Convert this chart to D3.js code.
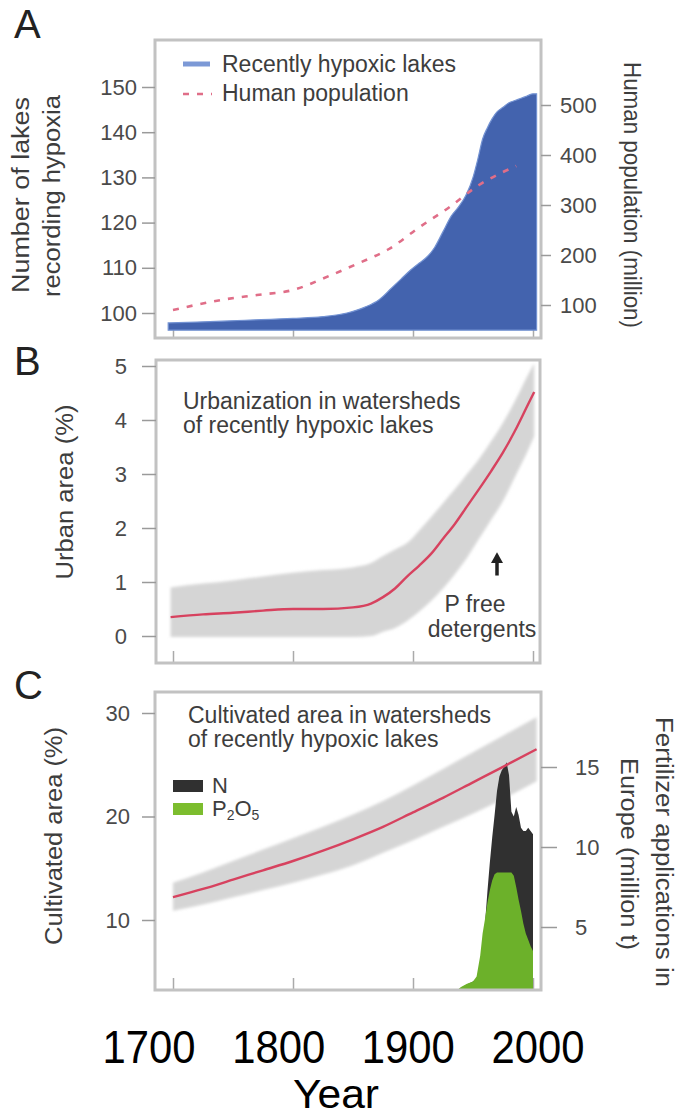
<!DOCTYPE html>
<html>
<head>
<meta charset="utf-8">
<script src="https://cdn.jsdelivr.net/npm/d3@7"></script>
<style>
  body { margin: 0; background: #fff; }
  svg { display: block; font-family: "Liberation Sans", Arial, sans-serif; }
</style>
</head>
<body>
<script>
const width = 679;
const height = 1118;

// ---- data ----
const yearTicks = [1700, 1800, 1900, 2000];

// A: cumulative number of lakes recording hypoxia
const lakeYears = [1696, 1720, 1760, 1800, 1825, 1845, 1860, 1872, 1882, 1890, 1898, 1905, 1912, 1918, 1925,
  1932, 1938, 1944, 1950, 1954, 1958, 1962, 1966, 1970, 1975, 1980, 1985, 1990, 1995, 2000, 2003];
const lakeCount = [97.8, 98.0, 98.4, 98.8, 99.2, 100.0, 101.3, 103.0, 105.5, 107.5, 109.5, 111.0, 112.5, 114.5, 118.0,
  121.5, 123.5, 126.0, 130.0, 134.0, 138.5, 141.0, 143.0, 144.5, 145.5, 146.5, 147.0, 147.5, 148.0, 148.5, 148.5];
const lakeTicks = [100, 110, 120, 130, 140, 150];

// A: human population (million)
const popYears = [1700, 1740, 1770, 1800, 1830, 1855, 1880, 1905, 1930, 1955, 1975, 1986];
const popValues = [90, 110, 120, 130, 158, 184, 212, 255, 295, 340, 366, 378];
const popTicks = [100, 200, 300, 400, 500];

// B: urban area (%)
const urbYears = [1698, 1725, 1750, 1775, 1800, 1825, 1850, 1865, 1875, 1885, 1895, 1905, 1915, 1925, 1935,
  1945, 1955, 1965, 1975, 1985, 1995, 2001];
const urbMean = [0.35, 0.4, 0.43, 0.47, 0.5, 0.5, 0.53, 0.6, 0.72, 0.88, 1.1, 1.3, 1.52, 1.8, 2.08,
  2.4, 2.72, 3.05, 3.4, 3.8, 4.25, 4.52];
const urbHigh = [0.9, 0.97, 1.03, 1.1, 1.17, 1.22, 1.27, 1.35, 1.48, 1.6, 1.72, 1.95, 2.2, 2.46, 2.72,
  3.0, 3.28, 3.6, 3.95, 4.35, 4.8, 5.05];
const urbLow = [-0.02, -0.02, -0.02, -0.02, -0.02, -0.02, -0.02, 0.0, 0.08, 0.15, 0.28, 0.45, 0.65, 0.88, 1.15,
  1.45, 1.8, 2.15, 2.5, 2.95, 3.4, 3.7];
const urbTicks = [0, 1, 2, 3, 4, 5];

// C: cultivated area (%)
const cultYears = [1700, 1725, 1750, 1775, 1800, 1825, 1850, 1875, 1900, 1925, 1950, 1975, 2003];
const cultMean = [12.2, 13.0, 13.9, 14.8, 15.7, 16.7, 17.8, 19.0, 20.4, 21.8, 23.3, 24.8, 26.5];
const cultHigh = [13.6, 14.6, 15.7, 16.8, 17.9, 19.0, 20.2, 21.5, 23.0, 24.6, 26.2, 27.8, 29.6];
const cultLow = [10.9, 11.5, 12.2, 12.9, 13.6, 14.4, 15.3, 16.5, 17.7, 19.0, 20.3, 21.7, 23.4];
const cultTicks = [10, 20, 30];

// C: fertilizer applications in Europe (million t)
const fertYears = [1936, 1940, 1945, 1950, 1953, 1956, 1958, 1960, 1962, 1964, 1966, 1968, 1970, 1972,
  1974, 1976, 1978, 1980, 1982, 1984, 1986, 1988, 1990, 1992, 1994, 1996, 1998, 2000];
const fertN = [1.0, 1.2, 1.4, 1.6, 1.8, 2.6, 3.9, 5.2, 7.2, 9.0, 10.6, 12.0, 13.5, 14.4,
  14.8, 15.0, 15.3, 14.5, 12.2, 11.9, 12.5, 12.0, 11.2, 11.0, 11.0, 11.2, 11.0, 10.8];
const fertP = [1.0, 1.25, 1.45, 1.6, 1.9, 3.2, 4.6, 5.5, 6.5, 7.3, 7.9, 8.3, 8.4, 8.4,
  8.4, 8.4, 8.4, 8.4, 8.4, 8.2, 7.5, 6.7, 6.0, 5.2, 4.6, 4.2, 3.8, 3.5];
const fertTicks = [5, 10, 15];

// ---- layout ----
const frameA = { x: 155, y: 40, w: 386, h: 298 };
const frameB = { x: 156, y: 360, w: 384, h: 303 };
const frameC = { x: 155, y: 692, w: 386, h: 298 };

const x = d3.scaleLinear().domain([1700, 2000]).range([173, 533]);
const yA = d3.scaleLinear().domain([100, 150]).range([313, 87]);
const yPop = d3.scaleLinear().domain([100, 500]).range([305, 105]);
const yB = d3.scaleLinear().domain([0, 5]).range([636, 366]);
const yC = d3.scaleLinear().domain([10, 30]).range([920, 713]);
const yF = d3.scaleLinear().domain([5, 15]).range([927, 767]);
const xLabel = d3.scaleLinear().domain([1700, 2000]).range([149, 538]);

const textCol = "#3d3d3d";
const red = "#d7425f";
const band = "#d5d5d5";

const svg = d3.select("body").append("svg")
  .attr("width", width)
  .attr("height", height);

const defs = svg.append("defs");
defs.append("filter").attr("id", "soft")
  .append("feGaussianBlur").attr("stdDeviation", 1.6);
[["clipA", frameA], ["clipB", frameB], ["clipC", frameC]].forEach(function(p){
  defs.append("clipPath").attr("id", p[0])
    .append("rect")
    .attr("x", p[1].x).attr("y", p[1].y)
    .attr("width", p[1].w).attr("height", p[1].h);
});

function zip(xs, ys){ return xs.map((d, i) => ({ year: d, v: ys[i] })); }
function zip3(xs, lo, hi){ return xs.map((d, i) => ({ year: d, lo: lo[i], hi: hi[i] })); }

function frame(f){
  svg.append("rect")
    .attr("x", f.x).attr("y", f.y)
    .attr("width", f.w).attr("height", f.h)
    .attr("fill", "none")
    .attr("stroke", "#c2c2c2")
    .attr("stroke-width", 3);
}

function yearTicksInside(f){
  const g = svg.append("g")
    .attr("transform", "translate(0," + (f.y + f.h) + ")")
    .call(d3.axisBottom(x).tickValues(yearTicks).tickSize(-12).tickFormat(""));
  g.select(".domain").remove();
  g.selectAll("line").attr("stroke", "#aaa").attr("stroke-width", 1.5);
}

function styleAxis(g){
  g.select(".domain").remove();
  g.selectAll("line").attr("stroke", "#9a9a9a").attr("stroke-width", 1.5);
  g.selectAll("text")
    .attr("font-family", "Liberation Sans, Arial, sans-serif")
    .attr("font-size", 22)
    .attr("fill", "#4a4a4a");
}

function rotLabel(txt, cx, cy, angle, len){
  svg.append("text")
    .attr("transform", "translate(" + cx + "," + cy + ") rotate(" + angle + ")")
    .attr("text-anchor", "middle")
    .attr("font-size", 23)
    .attr("fill", textCol)
    .attr("textLength", len)
    .attr("lengthAdjust", "spacingAndGlyphs")
    .text(txt);
}

function plainText(txt, px, py, size, anchor){
  return svg.append("text")
    .attr("x", px).attr("y", py)
    .attr("text-anchor", anchor || "start")
    .attr("font-size", size)
    .attr("fill", textCol)
    .text(txt);
}

// ================= Panel A =================
yearTicksInside(frameA);

const gA = svg.append("g").attr("clip-path", "url(#clipA)");
gA.append("path")
  .datum(zip(lakeYears, lakeCount))
  .attr("fill", "#4363ae")
  .attr("stroke", "#7392d2")
  .attr("stroke-width", 1.2)
  .attr("d", d3.area()
    .x(d => x(d.year))
    .y0(yA(96.2))
    .y1(d => yA(d.v))
    .curve(d3.curveMonotoneX));

gA.append("path")
  .datum(zip(popYears, popValues))
  .attr("fill", "none")
  .attr("stroke", "#e06e88")
  .attr("stroke-width", 2.6)
  .attr("stroke-dasharray", "6,8")
  .attr("d", d3.line()
    .x(d => x(d.year))
    .y(d => yPop(d.v))
    .curve(d3.curveMonotoneX));

frame(frameA);

styleAxis(svg.append("g").attr("transform", "translate(" + frameA.x + ",0)")
  .call(d3.axisLeft(yA).tickValues(lakeTicks).tickSize(13).tickPadding(5)));
styleAxis(svg.append("g").attr("transform", "translate(" + (frameA.x + frameA.w) + ",0)")
  .call(d3.axisRight(yPop).tickValues(popTicks).tickSize(10).tickPadding(9)));

// legend A
svg.append("line").attr("x1", 183).attr("x2", 210).attr("y1", 64).attr("y2", 64)
  .attr("stroke", "#7c99d6").attr("stroke-width", 5);
svg.append("line").attr("x1", 183).attr("x2", 212).attr("y1", 94).attr("y2", 94)
  .attr("stroke", "#e06e88").attr("stroke-width", 2.6).attr("stroke-dasharray", "6,8");
plainText("Recently hypoxic lakes", 222, 72, 23);
plainText("Human population", 222, 101, 23);

rotLabel("Number of lakes", 29, 195, -90, 196);
rotLabel("recording hypoxia", 60, 196, -90, 202);
rotLabel("Human population (million)", 624, 195, 90, 266);
plainText("A", 14, 38, 40).attr("fill", "#222");

// ================= Panel B =================
yearTicksInside(frameB);
const gB = svg.append("g").attr("clip-path", "url(#clipB)");
gB.append("path")
  .datum(zip3(urbYears, urbLow, urbHigh))
  .attr("fill", band)
  .attr("filter", "url(#soft)")
  .attr("d", d3.area()
    .x(d => x(d.year))
    .y0(d => yB(d.lo))
    .y1(d => yB(d.hi))
    .curve(d3.curveMonotoneX));
gB.append("path")
  .datum(zip(urbYears, urbMean))
  .attr("fill", "none")
  .attr("stroke", red)
  .attr("stroke-width", 2.4)
  .attr("d", d3.line()
    .x(d => x(d.year))
    .y(d => yB(d.v))
    .curve(d3.curveMonotoneX));
frame(frameB);

styleAxis(svg.append("g").attr("transform", "translate(" + frameB.x + ",0)")
  .call(d3.axisLeft(yB).tickValues(urbTicks).tickFormat(d3.format("d")).tickSize(14).tickPadding(15)));

plainText("Urbanization in watersheds", 183, 409, 23);
plainText("of recently hypoxic lakes", 183, 433, 23);

// P-free detergents arrow (1970)
svg.append("line")
  .attr("x1", x(1970)).attr("x2", x(1970))
  .attr("y1", yB(1.12)).attr("y2", yB(1.4))
  .attr("stroke", "#222").attr("stroke-width", 3.5);
svg.append("path")
  .attr("d", "M" + (x(1970) - 6) + "," + yB(1.35) + " L" + x(1970) + "," + yB(1.55) + " L" + (x(1970) + 6) + "," + yB(1.35) + "Z")
  .attr("fill", "#222");
plainText("P free", 475, 612, 23, "middle");
plainText("detergents", 482, 637, 23, "middle");

rotLabel("Urban area (%)", 73, 492, -90, 175);
plainText("B", 14, 375, 40).attr("fill", "#222");

// ================= Panel C =================
yearTicksInside(frameC);
const gC = svg.append("g").attr("clip-path", "url(#clipC)");
gC.append("path")
  .datum(zip3(cultYears, cultLow, cultHigh))
  .attr("fill", band)
  .attr("filter", "url(#soft)")
  .attr("d", d3.area()
    .x(d => x(d.year))
    .y0(d => yC(d.lo))
    .y1(d => yC(d.hi))
    .curve(d3.curveMonotoneX));

const fertArea = d3.area()
  .x(d => x(d.year))
  .y0(yF(0))
  .y1(d => yF(d.v))
  .curve(d3.curveLinear);
gC.append("path")
  .datum(zip(fertYears, fertN))
  .attr("fill", "#303030")
  .attr("d", fertArea);
gC.append("path")
  .datum(zip(fertYears, fertP))
  .attr("fill", "#6cb12a")
  .attr("d", fertArea);

gC.append("path")
  .datum(zip(cultYears, cultMean))
  .attr("fill", "none")
  .attr("stroke", red)
  .attr("stroke-width", 2.4)
  .attr("d", d3.line()
    .x(d => x(d.year))
    .y(d => yC(d.v))
    .curve(d3.curveMonotoneX));
frame(frameC);

styleAxis(svg.append("g").attr("transform", "translate(" + frameC.x + ",0)")
  .call(d3.axisLeft(yC).tickValues(cultTicks).tickSize(13).tickPadding(12)));
styleAxis(svg.append("g").attr("transform", "translate(" + (frameC.x + frameC.w) + ",0)")
  .call(d3.axisRight(yF).tickValues(fertTicks).tickSize(16).tickPadding(18)));

plainText("Cultivated area in watersheds", 188, 723, 23);
plainText("of recently hypoxic lakes", 188, 747, 23);

// legend C
svg.append("rect").attr("x", 173).attr("y", 780).attr("width", 30).attr("height", 12).attr("fill", "#303030");
svg.append("rect").attr("x", 173).attr("y", 803).attr("width", 30).attr("height", 12).attr("fill", "#7cbd2e");
plainText("N", 212, 793, 22);
const p2o5 = plainText("P", 212, 816, 22);
p2o5.append("tspan").attr("font-size", 14).attr("dy", 4).text("2");
p2o5.append("tspan").attr("font-size", 22).attr("dy", -4).text("O");
p2o5.append("tspan").attr("font-size", 14).attr("dy", 4).text("5");

rotLabel("Cultivated area (%)", 62, 836, -90, 218);
rotLabel("Fertilizer applications in", 656, 852, 90, 270);
rotLabel("Europe (million t)", 621, 854, 90, 192);
plainText("C", 14, 699, 40).attr("fill", "#222");

// ================= shared year axis =================
svg.selectAll(".yearLabel")
  .data(yearTicks)
  .enter()
  .append("text")
    .attr("class", "yearLabel")
    .attr("x", d => xLabel(d))
    .attr("y", 1063)
    .attr("text-anchor", "middle")
    .attr("font-family", "Liberation Sans, Arial, sans-serif")
    .attr("font-size", 47)
    .attr("textLength", 93)
    .attr("lengthAdjust", "spacingAndGlyphs")
    .attr("fill", "#000")
    .text(d => d);

svg.append("text")
  .attr("x", 336)
  .attr("y", 1108)
  .attr("text-anchor", "middle")
  .attr("font-family", "Liberation Sans, Arial, sans-serif")
  .attr("font-size", 41)
  .attr("textLength", 86)
  .attr("lengthAdjust", "spacingAndGlyphs")
  .attr("fill", "#000")
  .text("Year");
</script>
</body>
</html>
